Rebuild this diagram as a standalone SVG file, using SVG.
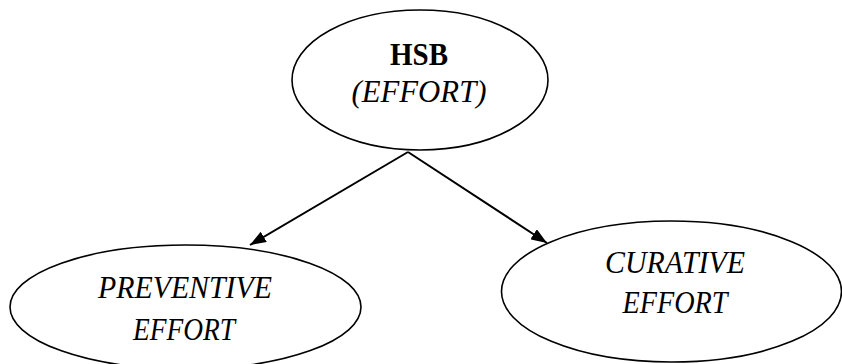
<svg xmlns="http://www.w3.org/2000/svg" width="842" height="364" viewBox="0 0 842 364">
<style>
.node ellipse{fill:#fff;stroke:#000;stroke-width:1.6}
.t{font-family:"Liberation Serif","Times New Roman",serif;font-size:31px;fill:#000;text-anchor:middle}
.i{font-style:italic}
.b{font-weight:bold}
.conn line{stroke:#000;stroke-width:2}
</style>
<defs>
<marker id="ah" viewBox="0 0 10 10" refX="10" refY="5" markerWidth="16" markerHeight="12" markerUnits="userSpaceOnUse" orient="auto" preserveAspectRatio="none">
<path d="M0,0 L10,5 L0,10 z" fill="#000"/>
</marker>
</defs>
<g class="conn">
<line x1="408" y1="152" x2="250" y2="245" marker-end="url(#ah)"/>
<line x1="408" y1="152" x2="547" y2="243" marker-end="url(#ah)"/>
</g>
<g id="hsb" class="node">
<ellipse cx="420" cy="80" rx="128" ry="70"/>
<text class="t b" x="419" y="65" textLength="58" lengthAdjust="spacingAndGlyphs">HSB</text>
<text class="t i" x="419" y="102" textLength="135" lengthAdjust="spacingAndGlyphs">(EFFORT)</text>
</g>
<g id="preventive" class="node">
<ellipse cx="185.5" cy="307" rx="175.5" ry="62"/>
<text class="t i" x="185" y="298" textLength="174" lengthAdjust="spacingAndGlyphs">PREVENTIVE</text>
<text class="t i" x="184" y="340" textLength="102" lengthAdjust="spacingAndGlyphs">EFFORT</text>
</g>
<g id="curative" class="node">
<ellipse cx="671.5" cy="291.5" rx="170" ry="70.5"/>
<text class="t i" x="675" y="273" textLength="140" lengthAdjust="spacingAndGlyphs">CURATIVE</text>
<text class="t i" x="675" y="313" textLength="105" lengthAdjust="spacingAndGlyphs">EFFORT</text>
</g>
</svg>
